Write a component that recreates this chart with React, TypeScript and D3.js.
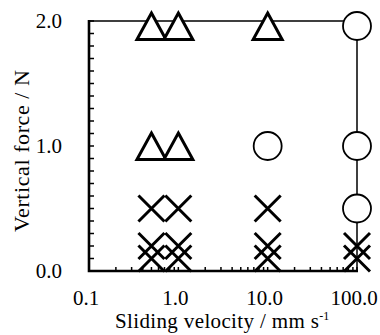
import React, { useRef, useEffect } from "react";
import * as d3 from "d3";

// sliding velocity (mm/s) and vertical force (N) for each marker type
const triangleVelocity = [0.5, 1.0, 10.0, 0.5, 1.0];
const triangleForce = [1.96, 1.96, 1.96, 1.0, 1.0];
const circleVelocity = [100.0, 10.0, 100.0, 100.0];
const circleForce = [1.96, 1.0, 1.0, 0.5];
const crossVelocity = [0.5, 1.0, 10.0, 0.5, 1.0, 10.0, 100.0, 0.5, 1.0, 10.0, 100.0];
const crossForce = [0.5, 0.5, 0.5, 0.2, 0.2, 0.2, 0.2, 0.1, 0.1, 0.1, 0.1];
const xTickValues = [0.1, 1.0, 10.0, 100.0];
const xTickLabels = ["0.1", "1.0", "10.0", "100.0"];
const yTickValues = [0.0, 1.0, 2.0];
const yTickLabels = ["0.0", "1.0", "2.0"];

const FONT = "Liberation Serif, Times New Roman, serif";

function App() {
  const ref = useRef<HTMLDivElement>(null);

  function drawChart() {
    const [width, height] = [380, 335];
    const margin = { left: 89, right: 23, top: 21, bottom: 64 };
    const x = d3
      .scaleLog()
      .domain([0.1, 100])
      .range([margin.left, width - margin.right]);
    const y = d3
      .scaleLinear()
      .domain([0, 2])
      .range([height - margin.bottom, margin.top]);

    d3.select(ref.current).selectAll("*").remove();
    const svg = d3
      .select(ref.current)
      .append("svg")
      .attr("width", width)
      .attr("height", height)
      .attr("viewBox", [0, 0, width, height])
      .style("position", "absolute")
      .style("left", 0)
      .style("top", 0)
      .style("background", "#fff")
      .style("font-family", FONT);

    const [x0, x1] = x.range();
    const [y0, y1] = y.range();

    // minor ticks, pointing inward
    const yMinor = d3.range(0, 21).map((i) => i / 10);
    svg
      .append("g")
      .selectAll("line")
      .data(yMinor)
      .join("line")
      .attr("x1", x0)
      .attr("x2", x0 + 5)
      .attr("y1", (d) => y(d))
      .attr("y2", (d) => y(d))
      .attr("stroke", "#000")
      .attr("stroke-width", 1.5);

    const xMinor: number[] = [];
    [0.1, 1, 10].forEach((dec) => {
      for (let k = 1; k <= 9; k++) xMinor.push(dec * k);
    });
    xMinor.push(100);
    svg
      .append("g")
      .selectAll("line")
      .data(xMinor)
      .join("line")
      .attr("x1", (d) => x(d))
      .attr("x2", (d) => x(d))
      .attr("y1", y0)
      .attr("y2", y0 - 4)
      .attr("stroke", "#000")
      .attr("stroke-width", 1.5);

    // frame: top & right thin, left & bottom heavy
    svg
      .append("path")
      .attr("d", `M${x0},${y1}H${x1}V${y0}`)
      .attr("fill", "none")
      .attr("stroke", "#000")
      .attr("stroke-width", 1.5);
    svg
      .append("path")
      .attr("d", `M${x0},${y1 - 1}V${y0}H${x1 + 1}`)
      .attr("fill", "none")
      .attr("stroke", "#000")
      .attr("stroke-width", 2.6);

    // tick labels
    svg
      .append("g")
      .selectAll("text")
      .data(yTickValues)
      .join("text")
      .attr("x", 62)
      .attr("y", (d) => y(d))
      .attr("dy", "0.34em")
      .attr("text-anchor", "end")
      .attr("font-size", 21)
      .text((d, i) => yTickLabels[i]);

    svg
      .append("g")
      .selectAll("text")
      .data(xTickValues)
      .join("text")
      .attr("x", (d) => x(d))
      .attr("dx", -3)
      .attr("y", 305)
      .attr("text-anchor", "middle")
      .attr("font-size", 21)
      .text((d, i) => xTickLabels[i]);

    // axis titles
    const xt = svg
      .append("text")
      .attr("x", 115)
      .attr("y", 328)
      .attr("font-size", 21);
    xt.append("tspan").attr("textLength", 204).attr("lengthAdjust", "spacing").text("Sliding velocity / mm s");
    xt.append("tspan").attr("dy", -8).attr("font-size", 12).text("-1");

    svg
      .append("text")
      .attr("transform", `translate(29,151) rotate(-90)`)
      .attr("text-anchor", "middle")
      .attr("font-size", 22)
      .attr("textLength", 162)
      .attr("lengthAdjust", "spacing")
      .text("Vertical force / N");

    // markers
    const crosses = d3.range(crossVelocity.length);
    svg
      .append("g")
      .selectAll("path")
      .data(crosses)
      .join("path")
      .attr("transform", (i) => `translate(${x(crossVelocity[i])},${y(crossForce[i])})`)
      .attr("d", "M-13,-13L13,13M-13,13L13,-13")
      .attr("fill", "none")
      .attr("stroke", "#000")
      .attr("stroke-width", 3);

    const tris = d3.range(triangleVelocity.length);
    svg
      .append("g")
      .selectAll("path")
      .data(tris)
      .join("path")
      .attr("transform", (i) => `translate(${x(triangleVelocity[i])},${y(triangleForce[i])})`)
      .attr("d", "M0,-13L14.5,13.5L-14.5,13.5Z")
      .attr("fill", "#fff")
      .attr("stroke", "#000")
      .attr("stroke-width", 3)
      .attr("stroke-linejoin", "miter");

    const circles = d3.range(circleVelocity.length);
    svg
      .append("g")
      .selectAll("circle")
      .data(circles)
      .join("circle")
      .attr("cx", (i) => x(circleVelocity[i]))
      .attr("cy", (i) => y(circleForce[i]))
      .attr("r", 14)
      .attr("fill", "#fff")
      .attr("stroke", "#000")
      .attr("stroke-width", 1.8);
  }

  useEffect(() => {
    drawChart();
  }, []);

  return <div ref={ref} />;
}

export default App;
